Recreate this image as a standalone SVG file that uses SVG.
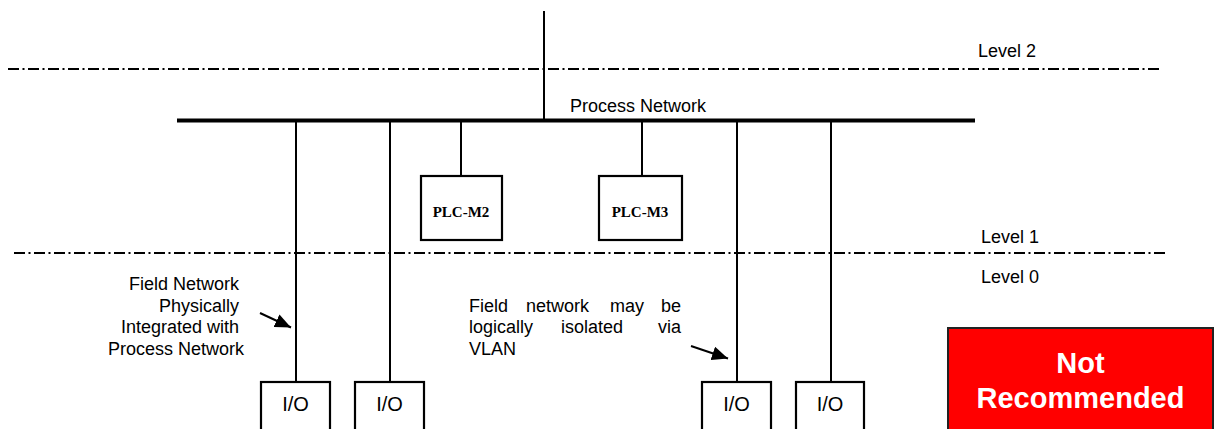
<svg xmlns="http://www.w3.org/2000/svg" width="1214" height="429" viewBox="0 0 1214 429">
<style>
.lvl{stroke:#000;stroke-width:2;stroke-dasharray:11 3.5 2 3.5;fill:none}
.wire{stroke:#000;stroke-width:2;fill:none}
.bus{stroke:#000;stroke-width:4;fill:none}
.box{fill:#fff;stroke:#000;stroke-width:2.2}
.t{font-family:"Liberation Sans",Arial,sans-serif;font-size:18px;fill:#000}
.io{font-family:"Liberation Sans",Arial,sans-serif;font-size:20px;fill:#000;text-anchor:middle}
.plc{font-family:"Liberation Serif","Times New Roman",serif;font-size:15px;font-weight:bold;fill:#000;text-anchor:middle}
.warn{font-family:"Liberation Sans",Arial,sans-serif;font-size:29px;font-weight:bold;fill:#fff;text-anchor:middle}
</style>
<defs>
<marker id="ah" markerUnits="userSpaceOnUse" markerWidth="17" markerHeight="14" refX="16" refY="7" orient="auto">
<path d="M0,0 L16,7 L0,14 z" fill="#000"/>
</marker>
</defs>
<rect width="1214" height="429" fill="#fff"/>
<g id="levels">
<line class="lvl" x1="8" y1="69" x2="1162" y2="69"/>
<line class="lvl" x1="14" y1="253" x2="1167" y2="253"/>
<text class="t" x="978" y="57">Level 2</text>
<text class="t" x="981" y="243">Level 1</text>
<text class="t" x="981" y="283">Level 0</text>
</g>
<g id="connectors">
<line class="wire" x1="544" y1="11" x2="544" y2="121"/>
<line class="bus" x1="177" y1="120.5" x2="975" y2="120.5"/>
<line class="wire" x1="296" y1="122" x2="296" y2="382"/>
<line class="wire" x1="390" y1="122" x2="390" y2="382"/>
<line class="wire" x1="461" y1="122" x2="461" y2="176"/>
<line class="wire" x1="642" y1="122" x2="642" y2="176"/>
<line class="wire" x1="737" y1="122" x2="737" y2="382"/>
<line class="wire" x1="831" y1="122" x2="831" y2="382"/>
<line class="wire" x1="260" y1="313" x2="291" y2="327.5" marker-end="url(#ah)"/>
<line class="wire" x1="691" y1="346" x2="728" y2="358.5" marker-end="url(#ah)"/>
</g>
<g id="process-network">
<text class="t" x="570" y="112">Process Network</text>
</g>
<g id="plc-m2">
<rect class="box" x="421" y="176" width="81" height="64"/>
<text class="plc" x="461" y="217">PLC-M2</text>
</g>
<g id="plc-m3">
<rect class="box" x="599" y="176" width="83" height="64"/>
<text class="plc" x="640" y="217">PLC-M3</text>
</g>
<g id="io-1">
<rect class="box" x="261" y="382" width="69" height="60"/>
<text class="io" x="295.5" y="411">I/O</text>
</g>
<g id="io-2">
<rect class="box" x="355" y="382" width="69" height="60"/>
<text class="io" x="389.5" y="411">I/O</text>
</g>
<g id="io-3">
<rect class="box" x="702" y="382" width="69" height="60"/>
<text class="io" x="736.5" y="411">I/O</text>
</g>
<g id="io-4">
<rect class="box" x="796" y="382" width="68" height="60"/>
<text class="io" x="830" y="411">I/O</text>
</g>
<g id="note-left">
<text class="t" text-anchor="end">
<tspan x="244" y="290">Field Network</tspan>
<tspan x="244" y="311.5">Physically</tspan>
<tspan x="244" y="333">Integrated with</tspan>
<tspan x="244" y="354.5">Process Network</tspan>
</text>
</g>
<g id="note-right">
<text class="t"><tspan x="469" y="312">Field</tspan><tspan x="526" y="312">network</tspan><tspan x="610" y="312">may</tspan><tspan x="681" y="312" text-anchor="end">be</tspan></text>
<text class="t"><tspan x="469" y="333">logically</tspan><tspan x="561" y="333">isolated</tspan><tspan x="681" y="333" text-anchor="end">via</tspan></text>
<text class="t" x="469" y="355">VLAN</text>
</g>
<g id="not-recommended">
<rect x="948" y="328" width="265" height="110" fill="#ff0000" stroke="#222" stroke-width="2"/>
<text class="warn" x="1080.5" y="373">Not</text>
<text class="warn" x="1080.5" y="408">Recommended</text>
</g>
</svg>
